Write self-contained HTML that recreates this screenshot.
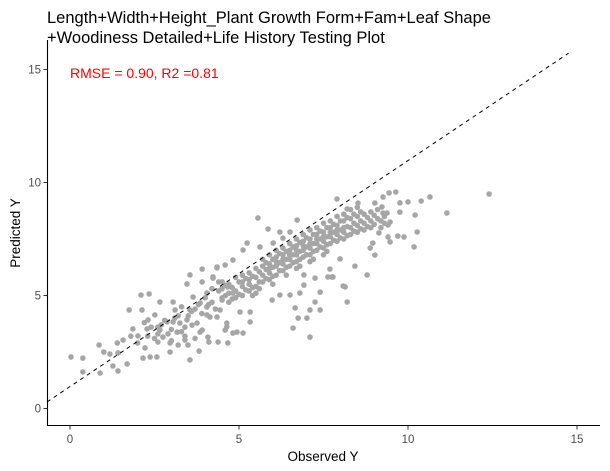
<!DOCTYPE html>
<html><head><meta charset="utf-8"><style>
body{margin:0;background:#fff;font-family:"Liberation Sans",Arial,sans-serif}
svg{display:block}
</style></head><body>
<svg id="chart" width="610" height="471">
<text x="47" y="23" font-size="16.5" fill="#000">Length+Width+Height_Plant Growth Form+Fam+Leaf Shape</text>
<text x="47" y="43" font-size="16.5" fill="#000">+Woodiness Detailed+Life History Testing Plot</text>
<g id="points"></g>
<g id="axes"></g>
<text x="70" y="78" font-size="14" fill="#ff0000">RMSE = 0.90, R2 =0.81</text>
<text x="323" y="461" font-size="13.5" text-anchor="middle" fill="#000">Observed Y</text>
<text transform="translate(20,233) rotate(-90)" font-size="13.5" text-anchor="middle" fill="#000">Predicted Y</text>
</svg>
<script>
const xTicks=[0,5,10,15];
const yTicks=[0,5,10,15];
const refIntercept=0.97, refSlope=1.0;
const points=[[0.03,2.28],[0.38,2.23],[0.38,1.62],[0.86,2.81],[0.89,1.57],[1.18,2.41],[1.42,2.46],[1.42,1.66],[1.69,1.97],[1.27,1.88],[1.75,4.36],[2.10,5.02],[2.34,5.07],[2.13,4.36],[1.86,3.52],[1.57,3.03],[2.01,3.21],[2.28,3.52],[2.31,3.92],[2.51,4.14],[2.66,4.71],[3.05,4.71],[3.11,4.36],[2.22,2.68],[2.16,2.23],[2.37,2.28],[2.57,2.28],[2.60,2.94],[2.75,3.16],[2.96,2.90],[2.66,3.47],[3.17,3.38],[3.40,3.03],[3.49,2.81],[3.20,2.81],[2.96,2.50],[3.55,2.15],[3.82,2.54],[4.11,2.94],[4.38,2.94],[4.67,2.90],[3.55,5.91],[3.46,5.51],[3.91,6.17],[3.91,5.60],[4.35,6.26],[4.59,6.35],[4.23,5.82],[3.55,4.36],[3.64,4.93],[3.85,4.67],[4.05,5.11],[3.76,3.78],[3.85,3.38],[4.05,4.14],[4.35,4.05],[4.64,3.78],[4.59,3.47],[4.94,3.38],[4.82,5.11],[4.67,5.38],[3.25,3.78],[3.46,3.92],[3.61,3.69],[3.05,3.83],[2.87,3.83],
[5.56,8.43],[6.72,8.34],[5.86,7.94],[6.21,7.81],[5.24,7.32],[5.62,7.15],[5.12,7.01],[6.01,7.32],[6.30,7.54],[6.51,7.81],[4.82,6.57],[4.35,6.22],[4.23,5.77],[8.14,5.38],[8.20,4.71],[7.75,5.82],[7.40,5.15],[7.25,4.71],[7.10,4.36],[7.40,4.36],[6.66,4.45],[6.75,4.00],[7.01,4.00],[6.60,3.56],[7.10,3.16],[6.51,5.02],[6.21,5.02],[5.98,4.80],[6.80,5.11],[5.33,4.27],[5.03,4.27],[5.33,3.83],[5.12,3.34],[4.64,3.61],[4.82,3.34],[4.44,4.36],[4.05,4.49],[4.14,4.05],[3.91,3.47],[4.08,3.16],
[12.40,9.49],[11.15,8.65],[10.65,9.36],[10.39,9.18],[10.21,8.56],[10.27,7.81],[10.18,7.15],[10.0,9.14],[9.76,9.10],[9.64,9.58],[9.44,9.54],[9.26,9.36],[9.76,8.69],[9.38,8.65],[9.47,8.25],[9.41,8.12],[9.14,7.77],[9.41,7.59],[9.47,7.37],[9.70,7.63],[9.88,7.59],[8.96,7.32],[8.88,7.10],[9.02,6.79],[8.79,5.91],[8.43,6.30],[7.99,6.62],[8.08,5.42],[7.78,5.82],[7.63,5.82],[7.69,6.17],[7.25,5.77],[6.92,5.91],[6.92,5.46],[7.90,9.27],[8.20,8.83],[8.52,9.09],[9.02,9.09],[9.23,8.92],[9.26,8.65],
[2.4,3.6],[2.6,3.3],[2.8,3.9],[3.0,3.5],[3.2,4.1],[3.4,3.6],[3.6,4.3],[3.8,4.6],[4.0,4.9],[4.2,4.7],[4.4,5.2],[1.0,2.5],[1.4,2.9],[1.8,3.2],[2.2,3.8],[2.6,3.6],
[2.5,3.1],[2.7,3.7],[2.9,3.3],[3.1,4.0],[3.3,3.4],[3.5,4.1],[3.7,4.4],[3.9,4.2],[4.1,4.6],[4.3,4.4],[4.5,4.8],[2.0,2.9],[2.3,3.2],[3.0,3.0],[3.4,3.2],[3.7,3.1],[4.2,5.3],[4.4,5.6],[3.3,4.5]];
const coreX=[4.5,4.7,4.9,5.1,5.3,5.5,5.7,5.9,6.1,6.3,6.5,6.7,6.9,7.1,7.3,7.5,7.7,7.9,8.1,8.3,8.5,8.7,8.9,9.1,9.3];
const coreY=[[4.9,5.3,5.6],[5.1,4.7,5.5],[5.2,5.8,4.9],[5.4,5.0,5.9,5.6],[5.5,5.2,6.0,5.7],[5.8,5.4,6.2,5.1],[5.9,6.3,5.6,6.6],[6.0,6.4,5.7,6.8,6.2],[6.3,6.7,5.9,6.5,7.0],[6.4,6.8,6.1,7.1,6.6],[6.6,7.0,6.3,7.3,6.8],[6.8,7.2,6.5,7.5,7.0,6.2],[7.0,7.4,6.7,7.7,7.2],[7.1,7.5,6.8,7.9,7.3,6.5],[7.3,7.7,7.0,8.0,7.5],[7.4,7.8,7.1,8.2,7.6,6.8],[7.6,8.0,7.3,8.3,7.8],[7.7,8.1,7.4,8.5,7.9],[7.8,8.3,7.5,8.6,8.0],[8.0,8.4,7.7,8.8],[8.1,8.5,7.8,8.9],[8.2,8.6,7.9],[8.3,8.7,8.0],[8.4,8.8],[8.5,8.2]];
const coreX2=[4.6,4.8,5.0,5.2,5.4,5.6,5.8,6.0,6.2,6.4,6.6,6.8,7.0,7.2,7.4,7.6,7.8,8.0,8.2,8.4,8.6,8.8,9.0,9.2];
const coreY2=[[5.0,5.45],[4.85,5.35],[5.05,5.6],[5.25,5.75],[5.35,5.85,5.0],[5.6,6.05,5.3],[5.75,6.15,6.45],[5.85,6.25,6.6,5.5],[6.1,6.45,6.85],[6.25,6.6,6.95,5.9],[6.45,6.8,7.15],[6.6,6.95,7.35,6.3],[6.8,7.15,7.55],[6.95,7.3,7.7,6.6],[7.15,7.5,7.85],[7.25,7.6,8.0,6.95],[7.45,7.8,8.15],[7.55,7.9,8.3],[7.65,8.05,8.45],[7.85,8.2,8.6],[7.95,8.3,8.7],[8.05,8.45],[8.15,8.55],[8.3,8.0]];

const NS="http://www.w3.org/2000/svg";
const sx=v=>70+v*33.8, sy=v=>408.5-v*22.6;
const xMin=-0.68;
const pg=document.getElementById('points');
function dot(x,y){
  const c=document.createElementNS(NS,'circle');
  c.setAttribute('cx',sx(x));c.setAttribute('cy',sy(y));c.setAttribute('r',2.8);c.setAttribute('fill','#a6a6a6');
  
  
  pg.appendChild(c);
}
points.forEach(p=>dot(p[0],p[1]));
coreX.forEach((x,i)=>coreY[i].forEach(y=>dot(x,y)));
coreX2.forEach((x,i)=>coreY2[i].forEach(y=>dot(x,y)));
const ln=document.createElementNS(NS,'line');
const x0=xMin, x1=14.75;
ln.setAttribute('x1',sx(x0));ln.setAttribute('y1',sy(refIntercept+refSlope*x0));
ln.setAttribute('x2',sx(x1));ln.setAttribute('y2',sy(refIntercept+refSlope*x1));
ln.setAttribute('stroke','#000');ln.setAttribute('stroke-width','1');ln.setAttribute('stroke-dasharray','4,4');


pg.appendChild(ln);
const ax=document.getElementById('axes');
function mk(tag,attrs,txt){const e=document.createElementNS(NS,tag);for(const k in attrs)e.setAttribute(k,attrs[k]);if(txt!==undefined)e.textContent=txt;ax.appendChild(e);return e;}
const xl=mk('line',{x1:47,y1:425.5,x2:600,y2:425.5,stroke:'#000','stroke-width':1.1});


const yl=mk('line',{x1:47.5,y1:40,x2:47.5,y2:426,stroke:'#000','stroke-width':1.1});


xTicks.forEach(t=>{
  const tk=mk('line',{x1:sx(t),y1:425.5,x2:sx(t),y2:429.5,stroke:'#333'});
  
  
  const lb=mk('text',{x:sx(t),y:443,'font-size':11.5,'text-anchor':'middle',fill:'#4d4d4d'},String(t));
  
  
});
yTicks.forEach(t=>{
  const tk=mk('line',{x1:43.5,y1:sy(t),x2:47.5,y2:sy(t),stroke:'#333'});
  
  
  const lb=mk('text',{x:41,y:sy(t)+4,'font-size':11.5,'text-anchor':'end',fill:'#4d4d4d'},String(t));
  
  
});
</script>
</body></html>
